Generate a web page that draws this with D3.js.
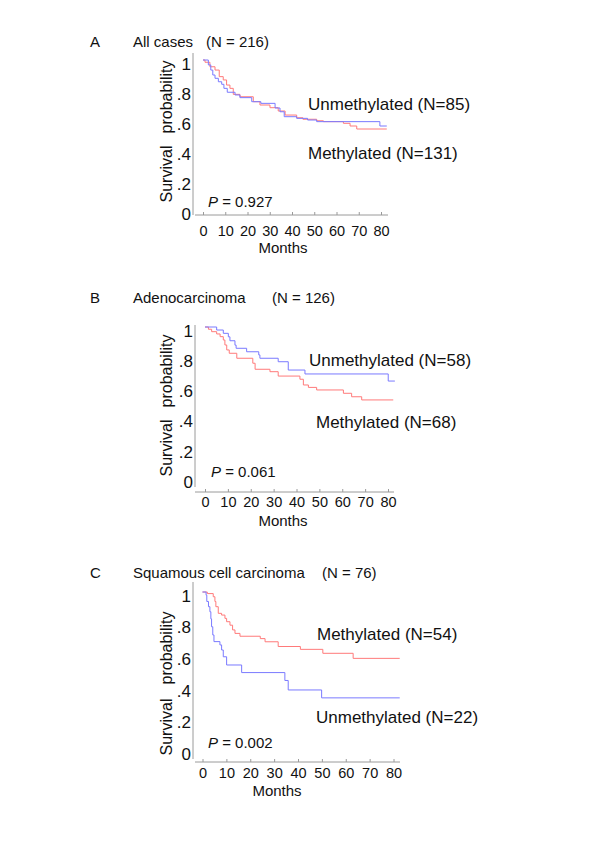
<!DOCTYPE html>
<html>
<head>
<meta charset="utf-8">
<script src="https://d3js.org/d3.v7.min.js"></script>
<style>
	body { margin: 0; background: #fff; }
	text { font-family: "Liberation Sans", Arial, sans-serif; font-size: 15px; fill: #111; }
	.tick line, .axis-line { stroke: #9a9a9a; stroke-width: 1px; }
	.curve { fill: none; stroke-width: 1px; }
	.series-label { font-size: 17px; }
</style>
</head>
<body>
<div id="chart"></div>
<script>
	// tick values and labels shared by the three panels
	const xTicks = [0, 10, 20, 30, 40, 50, 60, 70, 80];
	const yTicks = [0, 0.2, 0.4, 0.6, 0.8, 1];
	const yTickLabels = ["0", ".2", ".4", ".6", ".8", "1"];

	// Kaplan-Meier steps: [month, survival]
	const allUnmeth = [[0,1],[2.4,.967],[3.5,.933],[4.4,.9],[5.4,.878],[6.9,.855],[8.4,.838],[9.4,.811],[10.9,.785],[14.4,.767],[16.6,.749],[21.9,.722],[26,.711],[32.4,.68],[34.6,.655],[36.5,.622],[42.1,.611],[47,.6],[51.1,.589],[79.5,.56],[82.6,.56]];
	const allMeth = [[0,1],[0.9,.985],[3.1,.955],[5.4,.933],[7.3,.889],[9.1,.867],[10.6,.833],[12.1,.811],[13.6,.771],[16.6,.755],[22.6,.722],[25.6,.7],[30.1,.682],[33.8,.66],[36.9,.633],[42.1,.615],[44.9,.605],[51.1,.595],[54.1,.589],[63.1,.578],[66.1,.56],[69.1,.54],[82.6,.54]];

	const adenoUnmeth = [[0,1],[5.1,.98],[8,.958],[10.2,.935],[10.9,.909],[13.1,.88],[13.6,.859],[18.2,.836],[23.5,.815],[24,.793],[32,.77],[36.4,.715],[43.7,.689],[80.1,.642],[83,.642]];
	const adenoMeth = [[0,1],[1.5,.985],[2.9,.969],[5.1,.954],[6.6,.936],[8,.914],[8.7,.881],[9.5,.848],[10.6,.826],[13.9,.793],[20.9,.76],[21.9,.72],[28.4,.704],[32,.675],[41.5,.654],[43,.616],[45.2,.6],[48.8,.583],[60.5,.561],[64.1,.538],[68.5,.517],[82.3,.517]];

	const squamUnmeth = [[0,1],[1.5,.98],[1.8,.94],[2.5,.907],[3.1,.875],[3.5,.83],[3.8,.78],[4.3,.728],[4.8,.686],[7.3,.665],[8,.633],[8.7,.59],[10.1,.538],[16.4,.49],[34.5,.44],[35.9,.38],[49.9,.33],[82.6,.33]];
	const squamMeth = [[0,1],[2,.99],[4.5,.97],[5.2,.94],[5.6,.907],[6.6,.865],[8,.854],[9.4,.833],[10.1,.812],[11.5,.79],[12.6,.76],[13.6,.738],[15.7,.72],[24.2,.705],[26.2,.685],[31.7,.655],[41,.637],[50.4,.612],[63.1,.58],[82.6,.58]];

	const red = "#ff7a7a";
	const blue = "#7a7aff";

	// layout of each panel, in page pixels
	const panels = [
		{
			letter: "A", title: "All cases", nText: "(N = 216)", titleY: 47, nX: 206,
			xr: [203, 381], yr: [210, 60], axisX: 193, axisTop: 53, axisBottom: 215,
			xAxisY: 215, xLine: [195, 388], tickPad: 11,
			monthsX: 283, monthsY: 253, pX: 208, pY: 207, p: "0.927",
			probY: 97, survY: 174,
			series: [
				{ data: allMeth, color: red, label: "Methylated (N=131)", lx: 308, ly: 159 },
				{ data: allUnmeth, color: blue, label: "Unmethylated (N=85)", lx: 308, ly: 110 }
			]
		},
		{
			letter: "B", title: "Adenocarcinoma", nText: "(N = 126)", titleY: 303, nX: 272,
			xr: [205, 388], yr: [478, 327], axisX: 195, axisTop: 325, axisBottom: 487,
			xAxisY: 492, xLine: [195, 394], tickPad: 5,
			monthsX: 283, monthsY: 526, pX: 211, pY: 477, p: "0.061",
			probY: 371, survY: 448,
			series: [
				{ data: adenoMeth, color: red, label: "Methylated (N=68)", lx: 316, ly: 428 },
				{ data: adenoUnmeth, color: blue, label: "Unmethylated (N=58)", lx: 309, ly: 366 }
			]
		},
		{
			letter: "C", title: "Squamous cell carcinoma", nText: "(N = 76)", titleY: 578, nX: 322,
			xr: [202.5, 393.5], yr: [750, 592], axisX: 193, axisTop: 582, axisBottom: 759,
			xAxisY: 762, xLine: [195, 400], tickPad: 6,
			monthsX: 277, monthsY: 796, pX: 208, pY: 748, p: "0.002",
			probY: 648, survY: 727,
			series: [
				{ data: squamMeth, color: red, label: "Methylated (N=54)", lx: 317, ly: 640 },
				{ data: squamUnmeth, color: blue, label: "Unmethylated (N=22)", lx: 316, ly: 723 }
			]
		}
	];

	const svg = d3.select("#chart")
		.append("svg")
		.attr("width", 600)
		.attr("height", 867);

	panels.forEach(p => {
		const g = svg.append("g");
		const x = d3.scaleLinear().domain([0, 80]).range(p.xr);
		const y = d3.scaleLinear().domain([0, 1]).range(p.yr);

		// title
		g.append("text").attr("x", 90).attr("y", p.titleY).text(p.letter);
		g.append("text").attr("x", 133).attr("y", p.titleY).text(p.title);
		g.append("text").attr("x", p.nX).attr("y", p.titleY).text(p.nText);

		// y axis
		const yAxis = g.append("g")
			.attr("transform", `translate(${p.axisX},0)`)
			.call(d3.axisLeft(y).tickValues(yTicks).tickSize(0).tickPadding(2)
				.tickFormat((d, i) => yTickLabels[i]));
		yAxis.select(".domain").remove();
		yAxis.selectAll("text").attr("dy", "0.55em").style("font-size", "17px").attr("font-family", null);
		g.append("line").attr("class", "axis-line")
			.attr("x1", p.axisX).attr("x2", p.axisX)
			.attr("y1", p.axisTop).attr("y2", p.axisBottom);

		// x axis, ticks point inward
		const xAxis = g.append("g")
			.attr("transform", `translate(0,${p.xAxisY})`)
			.call(d3.axisBottom(x).tickValues(xTicks).tickSizeInner(-3).tickSizeOuter(0).tickPadding(p.tickPad));
		xAxis.select(".domain").remove();
		xAxis.selectAll("text").style("font-size", "14.5px").attr("font-family", null);
		g.append("line").attr("class", "axis-line")
			.attr("x1", p.xLine[0]).attr("x2", p.xLine[1])
			.attr("y1", p.xAxisY).attr("y2", p.xAxisY);

		// axis titles
		g.append("text").attr("x", p.monthsX).attr("y", p.monthsY)
			.attr("text-anchor", "middle").text("Months");
		g.append("text").attr("transform", `translate(172,${p.probY}) rotate(-90)`)
			.attr("text-anchor", "middle").style("font-size", "16px").text("probability");
		g.append("text").attr("transform", `translate(172,${p.survY}) rotate(-90)`)
			.attr("text-anchor", "middle").style("font-size", "16px").text("Survival");

		// survival curves
		const line = d3.line()
			.x(d => x(d[0]))
			.y(d => y(d[1]))
			.curve(d3.curveStepAfter);

		p.series.forEach(s => {
			g.append("path")
				.datum(s.data)
				.attr("class", "curve")
				.attr("stroke", s.color)
				.attr("d", line);
			g.append("text").attr("class", "series-label")
				.attr("x", s.lx).attr("y", s.ly).text(s.label);
		});

		// p value
		const pt = g.append("text").attr("x", p.pX).attr("y", p.pY);
		pt.append("tspan").attr("font-style", "italic").text("P");
		pt.append("tspan").text(" = " + p.p);
	});
</script>
</body>
</html>
